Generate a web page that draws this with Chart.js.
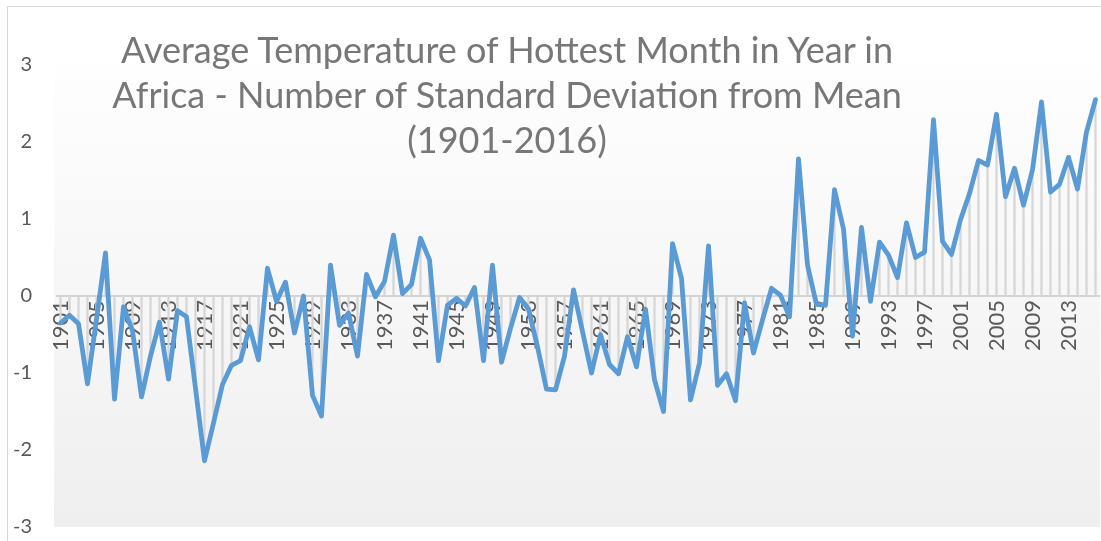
<!DOCTYPE html>
<html>
<head>
<meta charset="utf-8">
<script src="https://cdn.jsdelivr.net/npm/chart.js@4.4.1/dist/chart.umd.min.js"></script>
<style>
  html, body { margin: 0; padding: 0; background: #ffffff; }
  #wrap { position: relative; width: 1101px; height: 541px; overflow: hidden; }
  #frame { position: absolute; left: 7px; top: 6px; width: 1200px; height: 700px;
           border-top: 1.5px solid #d9d9d9; border-left: 1.5px solid #d9d9d9; pointer-events: none; }
  #title { position: absolute; left: 0; top: 27px; width: 1014px; text-align: center;
           font-family: Lato, "Open Sans", sans-serif; font-size: 36px; line-height: 45px;
           color: #777777; pointer-events: none; }
  canvas { position: absolute; left: 0; top: 0; }
</style>
</head>
<body>
<div id="wrap">
  <canvas id="c" width="1101" height="541"></canvas>
  <div id="frame"></div>
  <div id="title">Average Temperature of Hottest Month in Year in<br>Africa - Number of Standard Deviation from Mean<br>(1901-2016)</div>
</div>
<script>
const years = [
  1901,1902,1903,1904,1905,1906,1907,1908,1909,1910,
  1911,1912,1913,1914,1915,1916,1917,1918,1919,1920,
  1921,1922,1923,1924,1925,1926,1927,1928,1929,1930,
  1931,1932,1933,1934,1935,1936,1937,1938,1939,1940,
  1941,1942,1943,1944,1945,1946,1947,1948,1949,1950,
  1951,1952,1953,1954,1955,1956,1957,1958,1959,1960,
  1961,1962,1963,1964,1965,1966,1967,1968,1969,1970,
  1971,1972,1973,1974,1975,1976,1977,1978,1979,1980,
  1981,1982,1983,1984,1985,1986,1987,1988,1989,1990,
  1991,1992,1993,1994,1995,1996,1997,1998,1999,2000,
  2001,2002,2003,2004,2005,2006,2007,2008,2009,2010,
  2011,2012,2013,2014,2015,2016
];
const stdDevFromMean = [
  -0.35,-0.25,-0.36,-1.14,-0.30, 0.56,-1.34,-0.14,-0.45,-1.31,
  -0.78,-0.34,-1.08,-0.19,-0.27,-1.20,-2.14,-1.65,-1.15,-0.90,
  -0.84,-0.40,-0.83, 0.36,-0.07, 0.18,-0.48, 0.00,-1.29,-1.56,
   0.40,-0.38,-0.22,-0.78, 0.28,-0.01, 0.19, 0.79, 0.03, 0.15,
   0.75, 0.47,-0.84,-0.12,-0.03,-0.13, 0.11,-0.84, 0.40,-0.86,
  -0.42,-0.02,-0.17,-0.66,-1.21,-1.22,-0.78, 0.08,-0.46,-1.00,
  -0.50,-0.89,-1.01,-0.53,-0.92,-0.17,-1.09,-1.50, 0.68, 0.23,
  -1.35,-0.87, 0.65,-1.16,-1.01,-1.36,-0.09,-0.74,-0.31, 0.10,
   0.01,-0.27, 1.78, 0.40,-0.11,-0.12, 1.38, 0.87,-0.52, 0.89,
  -0.07, 0.70, 0.53, 0.24, 0.95, 0.50, 0.57, 2.29, 0.71, 0.54,
   0.99, 1.33, 1.76, 1.70, 2.36, 1.29, 1.66, 1.18, 1.64, 2.52,
   1.35, 1.45, 1.80, 1.39, 2.13, 2.55
];
const yTicks = [-3, -2, -1, 0, 1, 2, 3];
const labelEvery = 4;

const plotBackground = {
  id: 'plotBackground',
  beforeDraw(chart) {
    const {ctx, chartArea: a} = chart;
    const g = ctx.createLinearGradient(0, a.top, 0, a.bottom);
    g.addColorStop(0, '#fefefe');
    g.addColorStop(1, '#efefef');
    ctx.save();
    ctx.fillStyle = g;
    ctx.fillRect(a.left - 2, a.top, a.right - a.left + 2, a.bottom - a.top);
    ctx.restore();
  }
};

function zeroPadding(scale) {
  scale.paddingLeft = 0;
  scale.paddingRight = 0;
  scale.paddingTop = 0;
  scale.paddingBottom = 0;
}

new Chart(document.getElementById('c'), {
  data: {
    labels: years,
    datasets: [
      {
        type: 'line',
        data: stdDevFromMean,
        borderColor: '#5b9bd5',
        borderWidth: 4.8,
        pointRadius: 0,
        tension: 0,
        borderJoinStyle: 'round',
        borderCapStyle: 'round',
        fill: false,
        order: 0
      },
      {
        type: 'bar',
        data: stdDevFromMean,
        backgroundColor: '#d6d6d6',
        borderWidth: 0,
        barThickness: 1.6,
        order: 1
      }
    ]
  },
  options: {
    responsive: false,
    devicePixelRatio: 1,
    animation: false,
    layout: { padding: { top: 65, right: 1, bottom: 14, left: 0 } },
    plugins: { legend: { display: false }, tooltip: { enabled: false }, title: { display: false } },
    scales: {
      x: {
        type: 'category',
        position: { y: 0 },
        offset: true,
        afterFit: zeroPadding,
        grid: { display: false, drawTicks: false },
        border: { display: false },
        ticks: {
          autoSkip: false,
          minRotation: 90,
          maxRotation: 90,
          padding: 4,
          color: '#595959',
          font: { family: 'Lato', size: 22 },
          callback(value, index) { return index % labelEvery === 0 ? String(years[index]) : ''; }
        }
      },
      y: {
        min: yTicks[0],
        max: yTicks[yTicks.length - 1],
        afterFit(scale) { scale.width = 56; zeroPadding(scale); },
        afterBuildTicks(scale) { scale.ticks = yTicks.map(v => ({ value: v })); },
        border: { display: false },
        grid: {
          drawTicks: false,
          lineWidth: 2,
          color: (c) => (c.tick && c.tick.value === 0) ? '#d4d4d4' : 'rgba(0,0,0,0)'
        },
        ticks: {
          padding: 24,
          color: '#595959',
          font: { family: 'Lato', size: 20 }
        }
      }
    }
  },
  plugins: [plotBackground]
});
</script>
</body>
</html>
